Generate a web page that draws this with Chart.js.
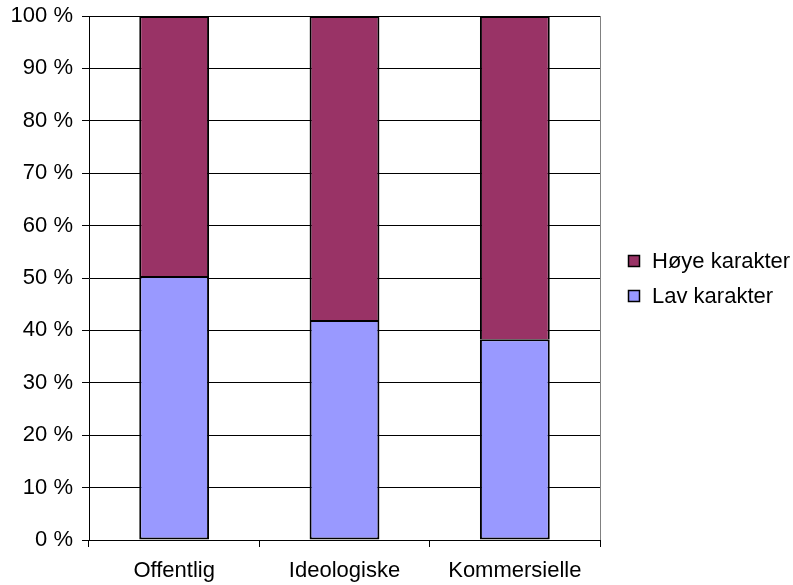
<!DOCTYPE html>
<html>
<head>
<meta charset="utf-8">
<script src="https://cdn.jsdelivr.net/npm/chart.js@4"></script>
<style>
  html, body { margin: 0; padding: 0; background: #fff; }
  #wrap { width: 793px; height: 585px; }
</style>
</head>
<body>
<div id="wrap"><canvas id="myChart" width="793" height="585"></canvas></div>
<script>
let categories = ['Offentlig', 'Ideologiske', 'Kommersielle'];
let lavKarakter = [50.4, 42.0, 38.3];
let hoyeKarakter = [49.6, 58.0, 61.7];
let seriesNames = ['Lav karakter', 'Høye karakter'];
let colorHex = ['#9999FF', '#993366'];

let fontFamily = '"Liberation Sans", Arial, sans-serif';

// legend on the right plus the thin frame line on the right side of the plot
let sideLegend = {
    id: 'sideLegend',
    afterDraw(chart) {
        let c = chart.ctx;
        let area = chart.chartArea;
        c.save();
        c.strokeStyle = '#808080';
        c.lineWidth = 1;
        c.beginPath();
        c.moveTo(Math.round(area.right) + 0.5, area.top);
        c.lineTo(Math.round(area.right) + 0.5, area.bottom);
        c.stroke();

        c.font = '22px ' + fontFamily;
        c.textBaseline = 'middle';
        let sets = chart.data.datasets.slice().reverse();
        sets.forEach((ds, i) => {
            let y = 261 + i * 35;
            c.fillStyle = ds.backgroundColor;
            c.fillRect(628, y - 6, 12, 12);
            c.strokeStyle = '#000';
            c.lineWidth = 1.5;
            c.strokeRect(628.5, y - 5.5, 11, 11);
            c.fillStyle = '#000';
            c.fillText(ds.label, 652, y + 1);
        });
        c.restore();
    }
};

let ctx = document.getElementById('myChart').getContext('2d');
let myChart = new Chart(ctx, {
    type: 'bar',
    data: {
        labels: categories,
        datasets: [{
            label: seriesNames[0],
            data: lavKarakter,
            backgroundColor: colorHex[0],
            borderColor: '#000',
            borderWidth: 2,
            borderSkipped: false
        }, {
            label: seriesNames[1],
            data: hoyeKarakter,
            backgroundColor: colorHex[1],
            borderColor: '#000',
            borderWidth: 2,
            // the lower segment already draws the shared edge
            borderSkipped: 'start'
        }]
    },
    options: {
        responsive: false,
        animation: false,
        layout: {
            padding: { left: 0, right: 193, top: 16, bottom: 0 }
        },
        plugins: {
            legend: { display: false },
            tooltip: { enabled: false }
        },
        datasets: {
            bar: { categoryPercentage: 1, barPercentage: 0.41 }
        },
        scales: {
            x: {
                stacked: true,
                afterFit: (scale) => { scale.height = 45; },
                grid: {
                    offset: true,
                    drawOnChartArea: false,
                    drawTicks: true,
                    tickLength: 7,
                    color: '#000'
                },
                border: { color: '#000', width: 1 },
                ticks: {
                    color: '#000',
                    padding: 11,
                    font: { family: fontFamily, size: 22 }
                }
            },
            y: {
                stacked: true,
                min: 0,
                max: 100,
                afterFit: (scale) => { scale.width = 89; },
                grid: {
                    color: '#000',
                    lineWidth: 1,
                    tickLength: 7
                },
                border: { color: '#000', width: 1 },
                ticks: {
                    stepSize: 10,
                    color: '#000',
                    padding: 9,
                    font: { family: fontFamily, size: 22, lineHeight: 0.6 },
                    callback: (value) => value + ' %'
                }
            }
        }
    },
    plugins: [sideLegend]
});
</script>
</body>
</html>
